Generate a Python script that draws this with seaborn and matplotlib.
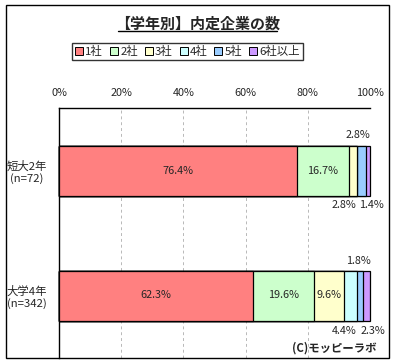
import matplotlib
matplotlib.use("Agg")
import matplotlib.pyplot as plt
from matplotlib.patches import Rectangle
from matplotlib.lines import Line2D
import numpy as np
import pandas as pd
import seaborn as sns

sns.set_theme(style="white")
plt.rcParams['font.family'] = ['Noto Sans CJK JP', 'DejaVu Sans']

# data
groups = ['短大2年\n(n=72)', '大学4年\n(n=342)']
series = ['1社', '2社', '3社', '4社', '5社', '6社以上']
values = {
    '短大2年\n(n=72)': [76.4, 16.7, 2.8, 0.0, 2.8, 1.4],
    '大学4年\n(n=342)': [62.3, 19.6, 9.6, 4.4, 1.8, 2.3],
}
colors = ['#FF8080', '#CCFFCC', '#FFFFCC', '#CCFFFF', '#99CCFF', '#CC99FF']

# where the small labels go: (position, x offset in px)
small_labels = {
    ('短大2年\n(n=72)', '3社'): ('above', 5),
    ('短大2年\n(n=72)', '5社'): ('below', -18),
    ('短大2年\n(n=72)', '6社以上'): ('below', 3),
    ('大学4年\n(n=342)', '4社'): ('below', -6),
    ('大学4年\n(n=342)', '5社'): ('above', -2),
    ('大学4年\n(n=342)', '6社以上'): ('below', 6),
}

df = pd.DataFrame(values, index=series).T
cum = df.cumsum(axis=1)

fs = 7.8

fig = plt.figure(figsize=(3.95, 3.64), dpi=100)
ax = fig.add_axes([59 / 395, 6 / 364, 311 / 395, 250 / 364])

# stacked bars: draw cumulative totals from the last series backwards
for i in range(len(series) - 1, -1, -1):
    d = pd.DataFrame({'group': groups, 'total': cum[series[i]].values})
    sns.barplot(data=d, x='total', y='group', orient='h', color=colors[i],
                saturation=1, width=0.4, edgecolor='black', linewidth=0.9,
                ax=ax, zorder=3)
for p in ax.patches:
    p.set_clip_on(False)

# value labels
for gi, g in enumerate(groups):
    for si, s in enumerate(series):
        v = df.loc[g, s]
        if v == 0:
            continue
        center = cum.loc[g, s] - v / 2
        txt = f'{v:.1f}%'
        if (g, s) in small_labels:
            pos, dx = small_labels[(g, s)]
            dy = 10 if pos == 'above' else -10
            ax.annotate(txt, (center, gi - 0.2 if pos == 'above' else gi + 0.2),
                        xytext=(dx, dy), textcoords='offset pixels',
                        ha='center', va='center', fontsize=fs, zorder=5,
                        annotation_clip=False)
        else:
            ax.text(center, gi, txt, ha='center', va='center', fontsize=fs, zorder=5)

ax.set_xlim(0, 100)
ax.set_xticks([0, 20, 40, 60, 80, 100])
ax.set_xticklabels([f'{t}%' for t in [0, 20, 40, 60, 80, 100]], fontsize=fs)
ax.xaxis.tick_top()
ax.tick_params(axis='x', length=0, pad=7)
ax.tick_params(axis='y', length=0, pad=23)
ax.set_xlabel('')
ax.set_ylabel('')
for lab in ax.get_yticklabels():
    lab.set_ha('center')
    lab.set_multialignment('center')
    lab.set_fontsize(8.2)
ax.xaxis.grid(True, color='#B8B8B8', linestyle=(0, (3, 3)), linewidth=0.7, zorder=0)
ax.yaxis.grid(False)
for side in ['right', 'bottom']:
    ax.spines[side].set_visible(False)
for side in ['top', 'left']:
    ax.spines[side].set_color('black')
    ax.spines[side].set_linewidth(1)

# legend
handles = [Rectangle((0, 0), 1, 1, facecolor=c, edgecolor='black', linewidth=0.7) for c in colors]
leg = fig.legend(handles, series, loc='center', bbox_to_anchor=(187.5 / 395, 1 - 51.5 / 364),
                 ncol=6, fontsize=8.2, frameon=True, fancybox=False, handlelength=0.7,
                 handleheight=0.7, handletextpad=0.2, columnspacing=0.6,
                 borderpad=0.25, borderaxespad=0)
leg.get_frame().set_edgecolor('black')
leg.get_frame().set_linewidth(1)

# title with underline
fig.text(197.5 / 395, 1 - 24 / 364, '【学年別】内定企業の数', ha='center', va='center',
         fontsize=10.8, fontweight='bold')
fig.add_artist(Line2D([118 / 395, 277 / 395], [1 - 31 / 364, 1 - 31 / 364],
                      color='black', linewidth=1))

fig.text(334 / 395, 1 - 348 / 364, '(C)モッピーラボ', ha='center', va='center',
         fontsize=8.2, fontweight='bold')

# outer border
fig.add_artist(Rectangle((6 / 395, 6 / 364), 383 / 395, 353 / 364, transform=fig.transFigure,
                         fill=False, edgecolor='black', linewidth=1))

fig.savefig('out.png', dpi=100)
